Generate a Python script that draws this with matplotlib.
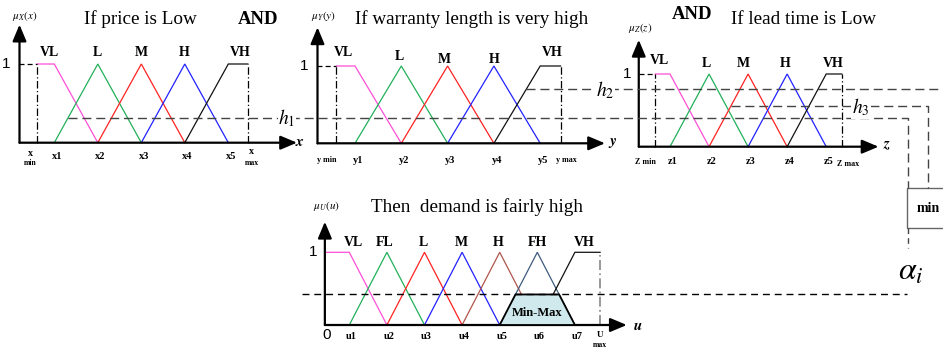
import matplotlib
matplotlib.use("Agg")
import matplotlib.pyplot as plt
from matplotlib.patches import Polygon, Rectangle

plt.rcParams['font.family'] = ['Liberation Serif', 'DejaVu Serif']
plt.rcParams['mathtext.fontset'] = 'stix'

# ---------------- data ----------------
titles = ["If price is Low", "If warranty length is very high",
          "If lead time is Low", "Then  demand is fairly high"]
mu_labels = [r"$\mu_X(x)$", r"$\mu_Y(y)$", r"$\mu_Z(z)$", r"$\mu_U(u)$"]
axis_names = ["x", "y", "z", "u"]

terms_5 = ["VL", "L", "M", "H", "VH"]
terms_7 = ["VL", "FL", "L", "M", "H", "FH", "VH"]

x_tick_labels = ["x1", "x2", "x3", "x4", "x5"]
y_tick_labels = ["y1", "y2", "y3", "y4", "y5"]
z_tick_labels = ["z1", "z2", "z3", "z4", "z5"]
u_tick_labels = ["u1", "u2", "u3", "u4", "u5", "u6", "u7"]

# break points, in units of the spacing between labelled points
x_points = [1, 2, 3, 4, 5]
y_points = [1, 2, 3, 4, 5]
z_points = [1, 2, 3, 4, 5]
u_points = [1, 2, 3, 4, 5, 6, 7]
x_range = (0.60, 5.45)     # x min, x max
y_range = (0.60, 5.44)     # y min, y max
z_range = (0.62, 5.40)     # z min, z max
u_range = (0.35, 7.67)     # 0, U max

# firing heights
h1, h2, h3 = 0.32, 0.70, 0.56
alpha_level = 0.42

colors_5 = ["#ff4fd8", "#22b05a", "#ff2222", "#2222ff", "#111111"]
colors_7 = ["#ff4fd8", "#22b05a", "#ff2222", "#2222ff", "#b0564c", "#3d5b7e", "#111111"]

# ---------------- layout (pixels) ----------------
W, H = 943, 349
fig = plt.figure(figsize=(W / 100, H / 100), dpi=100)

overlay = fig.add_axes([0, 0, 1, 1])
overlay.set_xlim(0, W)
overlay.set_ylim(H, 0)
overlay.axis("off")
overlay.set_zorder(5)
overlay.patch.set_alpha(0)

panels = [
    dict(p1=54.3, step=43.5, y0=142.7, y1=64.0, yaxis=0.20, xend=6.58, ytop=1.50,
         terms=terms_5, colors=colors_5, points=x_points, rng=x_range, ticks=x_tick_labels,
         label_x=[0.90, 1.98, 3.0, 3.98, 5.27], label_y=[1.14] * 5, tick_y=-0.18, min_dash=True),
    dict(p1=355.0, step=46.3, y0=143.3, y1=66.0, yaxis=0.19, xend=6.40, ytop=1.50,
         terms=terms_5, colors=colors_5, points=y_points, rng=y_range, ticks=y_tick_labels,
         label_x=[0.75, 1.97, 2.93, 4.0, 5.27], label_y=[1.17, 1.12, 1.08, 1.08, 1.17], tick_y=-0.22,
         min_dash=True),
    dict(p1=670.0, step=39.05, y0=146.7, y1=74.0, yaxis=0.20, xend=6.34, ytop=1.47,
         terms=terms_5, colors=colors_5, points=z_points, rng=z_range, ticks=z_tick_labels,
         label_x=[0.74, 1.94, 2.88, 3.94, 5.18], label_y=[1.18, 1.15, 1.15, 1.15, 1.15], tick_y=-0.21,
         min_dash=True),
    dict(p1=349.3, step=37.6, y0=325.0, y1=252.3, yaxis=0.35, xend=8.38, ytop=1.42,
         terms=terms_7, colors=colors_7, points=u_points, rng=u_range, ticks=u_tick_labels,
         label_x=[1.1, 1.95, 2.97, 3.99, 4.96, 6.0, 7.24], label_y=[1.14] * 7, tick_y=-0.165,
         min_dash=False),
]

DASH = (6.5, 3.5)
DASH_COL = "#444444"


def membership(points, rng, k):
    n = len(points)
    lo, hi = rng
    if k == 0:
        return [lo, points[0], points[1]], [1, 1, 0]
    if k == n - 1:
        return [points[n - 2], points[n - 1], hi], [0, 1, 1]
    return [points[k - 1], points[k], points[k + 1]], [0, 1, 0]


axes = []
for i, P in enumerate(panels):
    ax = fig.add_axes([0, 0, 1, 1])
    ax.set_xlim(1 + (0 - P["p1"]) / P["step"], 1 + (W - P["p1"]) / P["step"])
    ax.set_ylim((P["y0"] - H) / (P["y0"] - P["y1"]), P["y0"] / (P["y0"] - P["y1"]))
    ax.axis("off")
    ax.patch.set_alpha(0)
    axes.append(ax)

    # axes arrows
    ap = dict(arrowstyle="-|>,head_length=1.0,head_width=0.42", lw=1.6, color="black",
              shrinkA=0, shrinkB=0, mutation_scale=10)
    ax.annotate("", xy=(P["xend"], 0), xytext=(P["yaxis"], 0), arrowprops=ap)
    ax.annotate("", xy=(P["yaxis"], P["ytop"]), xytext=(P["yaxis"], 0), arrowprops=ap)

    # membership functions
    for k, (t, c) in enumerate(zip(P["terms"], P["colors"])):
        xs, ys = membership(P["points"], P["rng"], k)
        ax.plot(xs, ys, color=c, lw=0.9, solid_joinstyle="miter")
        ax.text(P["label_x"][k], P["label_y"][k], t, ha="center", va="center",
                fontsize=10, fontweight="bold")

    # tick labels
    for p, lab in zip(P["points"], P["ticks"]):
        ax.text(p + 0.06, P["tick_y"], lab, ha="center", va="center", fontsize=7.5,
                fontweight="bold")

    lo, hi = P["rng"]
    if P["min_dash"]:
        ax.plot([P["yaxis"], lo], [1, 1], color="black", lw=0.9, dashes=(4, 2.5))
        ax.plot([lo, lo], [0, 1], color="black", lw=0.9, linestyle="-.", dashes=(6, 2, 1, 2))
        ax.plot([hi, hi], [0, 1], color="black", lw=0.9, linestyle="-.", dashes=(6, 2, 1, 2))
    else:
        ax.plot([hi, hi], [0, 1], color="#888888", lw=1.2, linestyle="-.", dashes=(6, 2, 1, 2))

    # "1" on the vertical axis
    ax.text(P["yaxis"] - 0.2, 1, "1", ha="right", va="center", fontsize=11,
            family="Liberation Sans")


def to_px(ax, x, y):
    return overlay.transData.inverted().transform(ax.transData.transform((x, y)))


axX, axY, axZ, axU = axes

# "0" at the origin of the consequent panel
axU.text(u_range[0] + 0.05, -0.14, "0", ha="center", va="center", fontsize=11,
         family="Liberation Sans")

# Min-Max (clipped consequent)
pts = u_points
trap = Polygon([(pts[4], 0), (pts[4] + alpha_level, alpha_level),
                (pts[6] - alpha_level, alpha_level), (pts[6], 0)],
               closed=True, facecolor="#cfe9ec", edgecolor="black", lw=1.3, zorder=4)
axU.add_patch(trap)
axU.text(pts[5], 0.16, "Min-Max", ha="center", va="center", fontsize=9,
         fontweight="bold", zorder=5)

# ---------------- connectors ----------------
box_x, box_y, box_h = 906.7, 188.3, 39.4
h1_drop_x = box_x + 1.5
h3_drop_x = box_x + 21.6

s1 = to_px(axX, x_points[0] + h1, h1)
overlay.plot([s1[0], h1_drop_x, h1_drop_x], [s1[1], s1[1], box_y], color=DASH_COL,
             lw=1.0, dashes=DASH)
s2 = to_px(axY, y_points[3] + h2, h2)
overlay.plot([s2[0], W], [s2[1], s2[1]], color=DASH_COL, lw=1.0, dashes=DASH)
s3 = to_px(axZ, z_points[1] + h3, h3)
overlay.plot([s3[0], h3_drop_x, h3_drop_x], [s3[1], s3[1], box_y], color=DASH_COL,
             lw=1.0, dashes=DASH)

overlay.add_patch(Rectangle((box_x, box_y), 60, box_h, facecolor="white",
                            edgecolor="#666666", lw=1.0))
overlay.text(box_x + 21.6, box_y + box_h / 2, "min", ha="center", va="center",
             fontsize=10, fontweight="bold")
overlay.plot([h1_drop_x, h1_drop_x], [box_y + box_h, box_y + box_h + 20], color=DASH_COL,
             lw=1.0, dashes=(4, 3))
overlay.text(box_x + 4, 272, r"$\alpha_i$", ha="center", va="center", fontsize=23)

sa = to_px(axU, u_range[0], alpha_level)
overlay.plot([301.7, box_x], [sa[1], sa[1]], color="black", lw=1.0, dashes=(5, 3.5), zorder=1)

# h labels
bb = dict(facecolor="white", edgecolor="none", pad=0.5)
overlay.text(287, s1[1] + 1, r"$h_1$", ha="center", va="center", fontsize=14, bbox=bb)
overlay.text(605, s2[1] + 1, r"$h_2$", ha="center", va="center", fontsize=14, bbox=bb)
overlay.text(861, s3[1] + 1, r"$h_3$", ha="center", va="center", fontsize=14, bbox=bb)

# ---------------- titles ----------------
overlay.text(140, 19, titles[0], ha="center", va="center", fontsize=13.8)
overlay.text(258, 19, "AND", ha="center", va="center", fontsize=13.5, fontweight="bold")
overlay.text(471.7, 19, titles[1], ha="center", va="center", fontsize=13.8)
overlay.text(691.7, 14.3, "AND", ha="center", va="center", fontsize=13.5, fontweight="bold")
overlay.text(803.3, 19, titles[2], ha="center", va="center", fontsize=13.8)
overlay.text(476.7, 207.3, titles[3], ha="center", va="center", fontsize=13.8)

for (px, py), lab in zip([(25, 15.7), (323, 15.7), (640, 28.3), (326.7, 205.7)], mu_labels):
    overlay.text(px, py, lab, ha="center", va="center", fontsize=8)

for (px, py), lab in zip([(300, 143), (613, 143), (886.7, 146), (638, 326.7)], axis_names):
    overlay.text(px, py, r"$\mathbfit{%s}$" % lab, ha="center", va="center", fontsize=11)

# min / max tick labels
small = dict(ha="center", va="center", fontweight="bold")
overlay.text(30.7, 153.3, "x", fontsize=7.2, **small)
overlay.text(30.7, 163, "min", fontsize=5.5, **small)
overlay.text(251.7, 152, "x", fontsize=7.2, **small)
overlay.text(251.7, 163, "max", fontsize=5.5, **small)
overlay.text(326.7, 160, "y min", fontsize=5.8, **small)
overlay.text(566.7, 160, "y max", fontsize=5.8, **small)
overlay.text(645, 162, "Z min", fontsize=5.8, **small)
overlay.text(848.3, 164, "Z max", fontsize=5.8, **small)
overlay.text(600, 335, "U", fontsize=6.5, **small)
overlay.text(600, 345, "max", fontsize=5.5, **small)

fig.savefig("out.png", dpi=100)
